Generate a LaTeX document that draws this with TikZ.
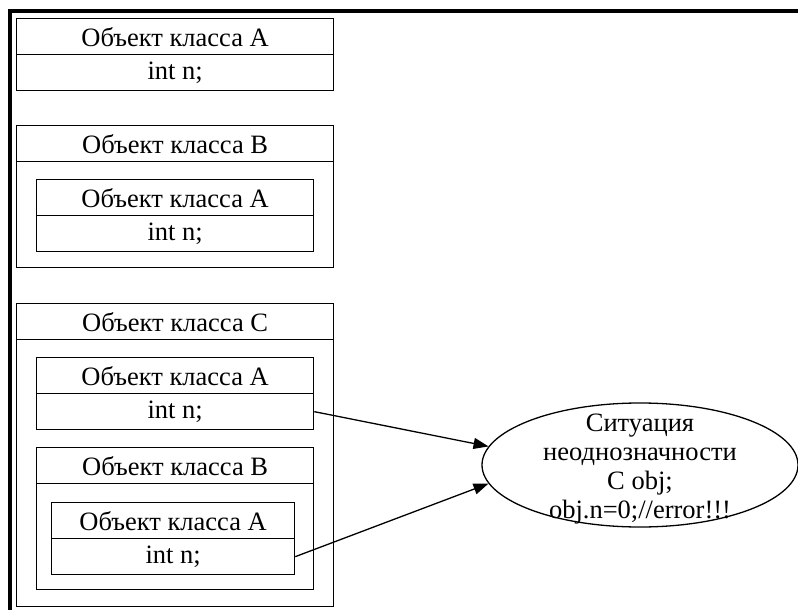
\documentclass[tikz,border=0pt]{standalone}
\usepackage{fontspec}
\setmainfont{Liberation Serif}
\usepackage{xcolor}
\usepackage{tikz}
\usetikzlibrary{arrows.meta,shapes.geometric}

\begin{document}
\begin{tikzpicture}[x=1pt,y=-1pt,
    cell/.style={draw, line width=1.3pt, anchor=north west, inner sep=0pt,
      minimum height=36pt, font=\fontsize{26.5}{29.5}\selectfont},
    frame/.style={draw, line width=1.3pt, anchor=north west, inner sep=0pt},
    link/.style={-{Triangle[length=15pt,width=11pt]}, line width=1.3pt}]
          \useasboundingbox (0,0) rectangle (798,610);
          \draw[line width=3.2pt] (8,11) -- (798,11);
          \draw[line width=3.2pt] (10,11) -- (10,610);

          % object of class A
          \node[cell, minimum width=317pt] (ah) at (16,18) {Объект класса A};
          \node[cell, minimum width=317pt] (ab) at (16,54) {int n;};

          % object of class B
          \node[frame, minimum width=317pt, minimum height=142pt] (bfr) at (16,125) {};
          \node[cell, minimum width=317pt] (bh) at (16,125) {Объект класса B};
          \node[cell, minimum width=277pt] (b_ah) at (36,179) {Объект класса A};
          \node[cell, minimum width=277pt] (b_ab) at (36,215) {int n;};

          % object of class C
          \node[frame, minimum width=317pt, minimum height=303pt] (cfr) at (16,303) {};
          \node[cell, minimum width=317pt] (ch) at (16,303) {Объект класса C};
          \node[cell, minimum width=277pt] (c_ah) at (36,357) {Объект класса A};
          \node[cell, minimum width=277pt] (c_ab) at (36,393) {int n;};
          \node[frame, minimum width=277pt, minimum height=142pt] (cbfr) at (36,447) {};
          \node[cell, minimum width=277pt] (cbh) at (36,447) {Объект класса B};
          \node[cell, minimum width=243pt] (cb_ah) at (51,502) {Объект класса A};
          \node[cell, minimum width=243pt] (cb_ab) at (51,538) {int n;};

          \node[draw, ellipse, line width=1.3pt, minimum width=316pt, minimum height=124pt, inner sep=0pt] (amb) at (640,465) {};
          \node[align=center, inner sep=0pt, font=\fontsize{26.5}{29}\selectfont] (ambtxt) at ([yshift=-4pt]amb.center)
            {Ситуация\\неоднозначности\\C obj;\\obj.n=0;//error!!!};

          \draw[link] (c_ab.east) -- (amb.173);
          \draw[link] (cb_ab.east) -- (amb.187);
        \end{tikzpicture}
\end{document}
